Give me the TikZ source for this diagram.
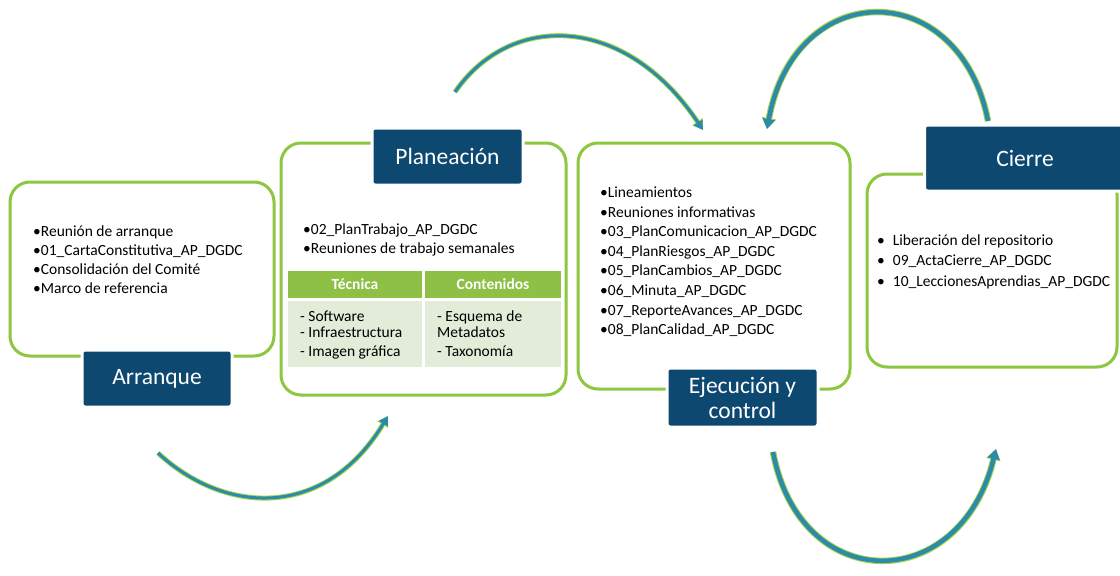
\documentclass[tikz,border=0pt]{standalone}
\usepackage{fontspec}
\setmainfont{Carlito}
\usetikzlibrary{arrows.meta}
\definecolor{phgreen}{HTML}{8DC63F}
\definecolor{phblue}{HTML}{0D4870}
\definecolor{hdgreen}{HTML}{8DC045}
\definecolor{bdgreen}{HTML}{E2ECD9}
\definecolor{arteal}{HTML}{2B8BA8}
\definecolor{arglow}{HTML}{A6D24E}
\tikzset{
  x=1pt, y=-1pt,
  phase/.style={draw=phgreen, line width=3pt, rounded corners=20pt},
  label/.style={fill=phblue, draw=white, line width=3pt, rounded corners=3pt, text=white,
    font=\fontsize{23.5}{25}\selectfont, align=center, inner sep=0pt},
  blist/.style={anchor=north west, inner sep=0pt, align=left},
  hdcell/.style={fill=hdgreen, draw=none, text=white, font=\fontsize{15.5}{17}\selectfont\bfseries},
  bdcell/.style={fill=bdgreen, draw=none},
  flow/.style={draw=arteal, line width=3pt, -{Triangle[length=9pt,width=10pt]},
    preaction={draw=arglow, line width=5pt, -{Triangle[length=10pt,width=12pt]}}},
  flowthick/.style={draw=arteal, line width=4.5pt, -{Triangle[length=10pt,width=12pt]},
    preaction={draw=arglow, line width=6.5pt, -{Triangle[length=11pt,width=14pt]}}}
}
\begin{document}
\begin{tikzpicture}
\path[use as bounding box, fill=white] (0,0) rectangle (1120,576);

% ---------- Arranque ----------
\draw[phase] (10,182) rectangle (274,356);
\node[label, minimum width=150pt, minimum height=57pt] (arr) at (157,378.5) {Arranque};
\node[blist, font=\fontsize{15.5}{19}\selectfont] (arrl) at (33,222.5)
  {\strut•Reunión de arranque\\•01\_CartaConstitutiva\_AP\_DGDC\\•Consolidación del Comité\\•Marco de referencia};

% ---------- Planeacion ----------
\draw[phase] (281,143) rectangle (566,395);
\node[label, minimum width=151pt, minimum height=57pt] (pla) at (447.5,156.5) {Planeación};
\node[blist, font=\fontsize{15.5}{19}\selectfont] (plal) at (303,220.5)
  {\strut•02\_PlanTrabajo\_AP\_DGDC\\•Reuniones de trabajo semanales};
\node[hdcell, minimum width=134pt, minimum height=27pt, inner sep=0pt] (tec) at (355,284) {Técnica};
\node[hdcell, minimum width=136pt, minimum height=27pt, inner sep=0pt] (con) at (493,284) {Contenidos};
\node[bdcell, minimum width=134pt, minimum height=66pt, inner sep=0pt] (tecb) at (355,334) {};
\node[bdcell, minimum width=136pt, minimum height=66pt, inner sep=0pt] (conb) at (493,334) {};
\node[blist, font=\fontsize{15.5}{16.5}\selectfont] (tecl) at (300,309.5)
  {\strut- Software\\- Infraestructura\\[2.5pt]- Imagen gráfica};
\node[blist, font=\fontsize{15.5}{16.5}\selectfont] (conl) at (437,309.5)
  {\strut- Esquema de\\Metadatos\\[2.5pt]- Taxonomía};

% ---------- Ejecucion y control ----------
\draw[phase] (578,143) rectangle (850,389);
\node[label, minimum width=151pt, minimum height=59pt] (eje) at (742.5,397.5) {Ejecución y\\control};
\node[blist, font=\fontsize{15.5}{19.6}\selectfont] (ejel) at (600,183.5)
  {\strut•Lineamientos\\•Reuniones informativas\\•03\_PlanComunicacion\_AP\_DGDC\\•04\_PlanRiesgos\_AP\_DGDC\\•05\_PlanCambios\_AP\_DGDC\\•06\_Minuta\_AP\_DGDC\\•07\_ReporteAvances\_AP\_DGDC\\•08\_PlanCalidad\_AP\_DGDC};

% ---------- Cierre ----------
\draw[phase] (867,174) rectangle (1117,367);
\node[label, minimum width=205pt, minimum height=66pt, anchor=west] (cie) at (923,158) {\hspace*{-4pt}Cierre};
\node[blist, font=\fontsize{15.5}{20.5}\selectfont] (ciel) at (877,230.5)
  {\strut•\hspace{8pt}Liberación del repositorio\\•\hspace{8pt}09\_ActaCierre\_AP\_DGDC\\•\hspace{8pt}10\_LeccionesAprendias\_AP\_DGDC};

% ---------- arrows ----------
\coordinate (a1s) at (158,453);
\coordinate (a1e) at (388,416);
\coordinate (a2s) at (455,92);
\coordinate (a2e) at (703,130);
\coordinate (a3s) at (988,121);
\coordinate (a3e) at (767,129);
\coordinate (a4s) at (773,452);
\coordinate (a4e) at (996,449);
\draw[flow] (a1s) .. controls (225,515) and (325,520) .. (a1e);
\draw[flow] (a2s) .. controls (510,12) and (625,13) .. (a2e);
\draw[flowthick] (a3s) .. controls (960,-24) and (795,-24) .. (a3e);
\draw[flowthick] (a4s) .. controls (800,596) and (960,596) .. (a4e);
\end{tikzpicture}
\end{document}
